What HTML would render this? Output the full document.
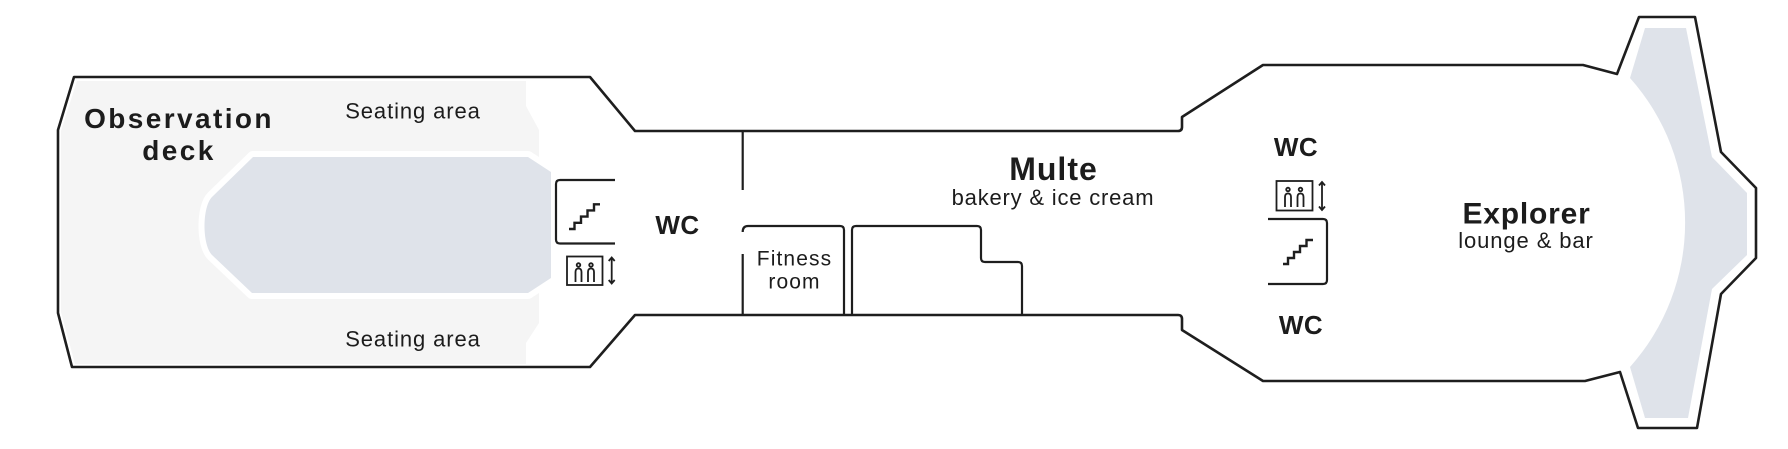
<!DOCTYPE html>
<html>
<head>
<meta charset="utf-8">
<style>
  html, body { margin:0; padding:0; background:#ffffff; }
  body { width:1788px; height:449px; overflow:hidden; }
  svg { display:block; }
  .b { font-family:"Liberation Sans", sans-serif; font-weight:bold; fill:#1c1c1c; }
  .r { font-family:"Liberation Sans", sans-serif; font-weight:normal; fill:#1c1c1c; }
</style>
</head>
<body>
<svg width="1788" height="449" viewBox="0 0 1788 449" xmlns="http://www.w3.org/2000/svg">
  <!-- light gray fill of observation deck -->
  <polygon points="77,81 526,81 526,106 539,130 539,323 526,343 526,364 75,364 61,312 61,131" fill="#f5f5f5"/>
  <!-- blue inner area with white border -->
  <path d="M253,157 H528 L551,172 V278 L528,293 H252 L212,255 C202,245 202,207 212,197 Z" fill="#dfe3ea" stroke="#ffffff" stroke-width="12" paint-order="stroke" stroke-linejoin="round"/>
  <!-- blue fin at right -->
  <path d="M1645,28 H1686 L1712,157 L1747,193 V255 L1712,289 L1688,418 H1645 L1630,367 A217,217 0 0 0 1630,78 Z" fill="#dfe3ea"/>

  <!-- main outline -->
  <path d="M74,77 H590 L635,131 H1178 Q1182,131 1182,127 V117 L1263,65 H1583 L1617,74 L1639,17 L1695,17 L1721,152 L1756,188 V258 L1721,294 L1697,428 H1638 L1620,372 L1585,381 H1263 L1182,330 V319 Q1182,315 1178,315 H635 L590,367 H72 L58,313 V130 Z"
        fill="none" stroke="#1e1e1e" stroke-width="2.6" stroke-linejoin="round"/>

  <!-- interior walls -->
  <g fill="none" stroke="#1e1e1e" stroke-width="2.2" stroke-linejoin="round" stroke-linecap="butt">
    <line x1="742.7" y1="131" x2="742.7" y2="190"/>
    <path d="M742.7,232 Q742.7,226 748,226 H840 Q844,226 844,230 V315"/>
    <line x1="742.7" y1="254" x2="742.7" y2="315"/>
    <path d="M852,316 V230 Q852,226 856,226 H977 Q981,226 981,230 V258 Q981,262 985,262 H1018 Q1022,262 1022,266 V316"/>
    <!-- left stair box -->
    <path d="M615,180 H560 Q556,180 556,184 V239.5 Q556,243.5 560,243.5 H615"/>
    <!-- right stair box -->
    <path d="M1268,219 H1323 Q1327,219 1327,223 V280 Q1327,284 1323,284 H1268"/>
  </g>

  <!-- stair icons -->
  <g fill="none" stroke="#1e1e1e" stroke-width="2.4" stroke-linejoin="miter">
    <path d="M569,229 H574.5 V222.8 H581 V216.6 H587.5 V210.4 H594 V204.3 H600"/>
    <path d="M1283,264 H1288 V258 H1294 V252 H1300 V246 H1306.5 V240 H1313"/>
  </g>

  <!-- elevator icons -->
  <g fill="none" stroke="#1e1e1e" stroke-width="1.8">
    <rect x="567" y="256.5" width="35.5" height="28.5"/>
    <circle cx="578.5" cy="265" r="1.8"/>
    <circle cx="591" cy="265" r="1.8"/>
    <path d="M575.5,282 V272 Q575.5,268.5 578.5,268.5 Q581.5,268.5 581.5,272 V282"/>
    <path d="M588,282 V272 Q588,268.5 591,268.5 Q594,268.5 594,272 V282"/>
    <line x1="611.7" y1="258" x2="611.7" y2="283"/>
    <path d="M608.7,261 L611.7,257.5 L614.7,261"/>
    <path d="M608.7,280 L611.7,283.5 L614.7,280"/>

    <rect x="1276.5" y="181" width="36" height="29.5"/>
    <circle cx="1288" cy="189.5" r="1.8"/>
    <circle cx="1300.5" cy="189.5" r="1.8"/>
    <path d="M1285,207 V197 Q1285,193.5 1288,193.5 Q1291,193.5 1291,197 V207"/>
    <path d="M1297.5,207 V197 Q1297.5,193.5 1300.5,193.5 Q1303.5,193.5 1303.5,197 V207"/>
    <line x1="1322" y1="182.5" x2="1322" y2="209.5"/>
    <path d="M1319,185.5 L1322,182 L1325,185.5"/>
    <path d="M1319,206.5 L1322,210 L1325,206.5"/>
  </g>

  <!-- labels -->
  <text class="b" x="179" y="128" font-size="28" letter-spacing="2.4" text-anchor="middle">Observation</text>
  <text class="b" x="179" y="160" font-size="28" letter-spacing="2.4" text-anchor="middle">deck</text>

  <text class="r" x="413" y="118.3" font-size="22" letter-spacing="0.9" text-anchor="middle">Seating area</text>
  <text class="r" x="413" y="346.7" font-size="22" letter-spacing="0.9" text-anchor="middle">Seating area</text>

  <text class="b" x="677.5" y="234" font-size="26" letter-spacing="0.5" text-anchor="middle">WC</text>

  <text class="r" x="794.5" y="265.5" font-size="21" letter-spacing="1.1" text-anchor="middle">Fitness</text>
  <text class="r" x="794.5" y="288.3" font-size="21" letter-spacing="1.1" text-anchor="middle">room</text>

  <text class="b" x="1053.5" y="180" font-size="32" letter-spacing="1" text-anchor="middle">Multe</text>
  <text class="r" x="1053" y="205" font-size="22" letter-spacing="0.8" text-anchor="middle">bakery &amp; ice cream</text>

  <text class="b" x="1296" y="156" font-size="26" letter-spacing="0.5" text-anchor="middle">WC</text>
  <text class="b" x="1301" y="334" font-size="26" letter-spacing="0.5" text-anchor="middle">WC</text>

  <text class="b" x="1526.5" y="223.5" font-size="30" letter-spacing="0.8" text-anchor="middle">Explorer</text>
  <text class="r" x="1526" y="248" font-size="22" letter-spacing="0.9" text-anchor="middle">lounge &amp; bar</text>
</svg>
</body>
</html>
